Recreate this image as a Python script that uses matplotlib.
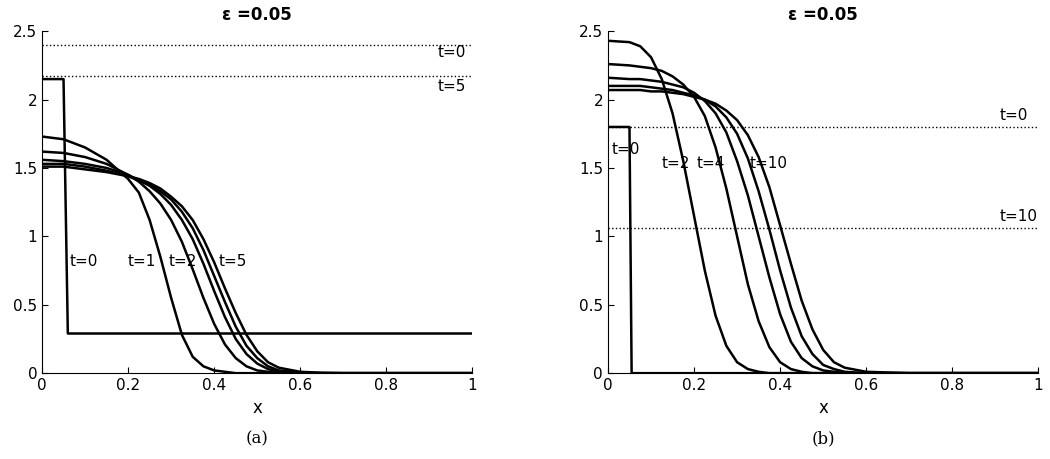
import matplotlib
matplotlib.use("Agg")
import matplotlib.pyplot as plt

# Left panel data
xl = [0, .05, .1, .15, .2, .225, .25, .275, .3, .325, .35, .375, .4, .425, .45, .475, .5, .525, .55, .6, .65, .7, .8, 1.0]
left_t1 = [1.73, 1.71, 1.65, 1.56, 1.42, 1.32, 1.12, 0.85, 0.55, 0.28, 0.12, 0.05, 0.02, 0.01, 0, 0, 0, 0, 0, 0, 0, 0, 0, 0]
left_t2 = [1.62, 1.61, 1.58, 1.53, 1.45, 1.40, 1.33, 1.24, 1.12, 0.96, 0.76, 0.55, 0.36, 0.21, 0.11, 0.05, 0.02, 0.01, 0, 0, 0, 0, 0, 0]
left_t3 = [1.56, 1.55, 1.53, 1.50, 1.45, 1.41, 1.37, 1.31, 1.23, 1.12, 0.98, 0.80, 0.60, 0.41, 0.25, 0.14, 0.07, 0.03, 0.01, 0, 0, 0, 0, 0]
left_t4 = [1.53, 1.53, 1.51, 1.48, 1.44, 1.41, 1.38, 1.33, 1.27, 1.18, 1.06, 0.90, 0.71, 0.52, 0.34, 0.20, 0.11, 0.05, 0.02, 0.005, 0, 0, 0, 0]
left_t5 = [1.51, 1.51, 1.49, 1.47, 1.44, 1.42, 1.39, 1.35, 1.29, 1.22, 1.12, 0.98, 0.81, 0.62, 0.44, 0.28, 0.16, 0.08, 0.04, 0.01, 0.003, 0, 0, 0]
left_step_x = [0, 0.05, 0.06, 1.0]
left_step_y = [2.15, 2.15, 0.29, 0.29]
left_dotted = [2.40, 2.17]

# Right panel data
xr = [0, .05, .075, .1, .125, .15, .175, .2, .225, .25, .275, .3, .325, .35, .375, .4, .425, .45, .475, .5, .525, .55, .6, .7, 1.0]
right_t2 = [2.43, 2.42, 2.39, 2.31, 2.15, 1.90, 1.55, 1.15, 0.75, 0.42, 0.20, 0.08, 0.03, 0.01, 0, 0, 0, 0, 0, 0, 0, 0, 0, 0, 0]
right_t4 = [2.26, 2.25, 2.24, 2.23, 2.21, 2.17, 2.11, 2.02, 1.88, 1.65, 1.35, 1.00, 0.65, 0.38, 0.19, 0.08, 0.03, 0.01, 0, 0, 0, 0, 0, 0, 0]
right_t6 = [2.16, 2.15, 2.15, 2.14, 2.13, 2.11, 2.09, 2.05, 1.99, 1.90, 1.76, 1.55, 1.30, 1.00, 0.70, 0.43, 0.23, 0.11, 0.05, 0.02, 0.01, 0, 0, 0, 0]
right_t8 = [2.10, 2.10, 2.10, 2.09, 2.08, 2.07, 2.05, 2.03, 2.00, 1.95, 1.87, 1.75, 1.57, 1.33, 1.05, 0.75, 0.48, 0.27, 0.14, 0.06, 0.03, 0.01, 0, 0, 0]
right_t10 = [2.07, 2.07, 2.07, 2.06, 2.06, 2.05, 2.04, 2.02, 2.00, 1.97, 1.92, 1.85, 1.74, 1.58, 1.36, 1.08, 0.80, 0.53, 0.32, 0.17, 0.08, 0.04, 0.01, 0, 0]
right_step_x = [0, 0.05, 0.055, 1.0]
right_step_y = [1.8, 1.8, 0, 0]
right_dotted = [1.80, 1.06]

xticks = [0, 0.2, 0.4, 0.6, 0.8, 1]
xticklabels = ["0", "0.2", "0.4", "0.6", "0.8", "1"]
yticks = [0, 0.5, 1, 1.5, 2, 2.5]
yticklabels = ["0", "0.5", "1", "1.5", "2", "2.5"]

fig = plt.figure(figsize=(10.5, 4.59), dpi=100)
axL = fig.add_axes([0.040, 0.187, 0.410, 0.745])
axR = fig.add_axes([0.579, 0.187, 0.410, 0.745])

for ax in (axL, axR):
    ax.set_xlim(0, 1)
    ax.set_ylim(0, 2.5)
    ax.set_xticks(xticks)
    ax.set_xticklabels(xticklabels)
    ax.set_yticks(yticks)
    ax.set_yticklabels(yticklabels)
    ax.tick_params(direction="in", labelsize=11, length=4)
    ax.spines["top"].set_visible(False)
    ax.spines["right"].set_visible(False)
    ax.set_xlabel("x", fontsize=12, labelpad=4)
    ax.set_title("ε =0.05", fontsize=12, fontweight="bold", pad=8)

lw = 1.8
axL.plot(left_step_x, left_step_y, color="black", lw=lw)
for ys in (left_t1, left_t2, left_t3, left_t4, left_t5):
    axL.plot(xl, ys, color="black", lw=lw)
for y in left_dotted:
    axL.axhline(y, color="black", ls=":", lw=1)
axL.text(0.92, 2.31, "t=0", fontsize=11)
axL.text(0.92, 2.06, "t=5", fontsize=11)
for x, s in [(0.065, "t=0"), (0.20, "t=1"), (0.295, "t=2"), (0.41, "t=5")]:
    axL.text(x, 0.78, s, fontsize=11)

axR.plot(right_step_x, right_step_y, color="black", lw=lw)
for ys in (right_t2, right_t4, right_t6, right_t8, right_t10):
    axR.plot(xr, ys, color="black", lw=lw)
for y in right_dotted:
    axR.axhline(y, color="black", ls=":", lw=1)
axR.text(0.91, 1.85, "t=0", fontsize=11)
axR.text(0.91, 1.11, "t=10", fontsize=11)
axR.text(0.008, 1.6, "t=0", fontsize=11)
for x, s in [(0.125, "t=2"), (0.205, "t=4"), (0.33, "t=10")]:
    axR.text(x, 1.5, s, fontsize=11)

fig.text(0.245, 0.035, "(a)", fontsize=12, family="DejaVu Serif", ha="center")
fig.text(0.784, 0.035, "(b)", fontsize=12, family="DejaVu Serif", ha="center")

fig.savefig("out.png", dpi=100)
